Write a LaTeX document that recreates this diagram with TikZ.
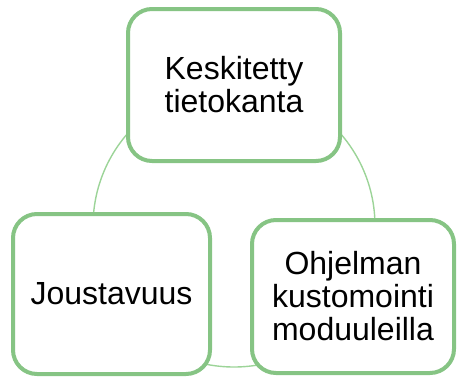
\documentclass[tikz,border=0pt]{standalone}
\usepackage{fontspec}
\setmainfont{Liberation Sans}
\definecolor{boxgreen}{RGB}{134,196,132}
\definecolor{ringgreen}{RGB}{156,212,152}
\begin{document}
\begin{tikzpicture}[x=1pt,y=-1pt,
  cyclebox/.style={draw=boxgreen, line width=4pt, fill=white,
    rounded corners=24pt, inner sep=0pt, align=center,
    font=\fontsize{32}{33}\selectfont, text=black}]
\useasboundingbox (0,0) rectangle (457,378);
% ring linking the three stages
\coordinate (hub) at (234,226);
\draw[ringgreen, line width=1.4pt] (hub) circle[radius=141pt];
% stages
\node[cyclebox, minimum width=212pt, minimum height=152pt] (db) at (234,85)
  {Keskitetty\\tietokanta};
\node[cyclebox, minimum width=197pt, minimum height=160pt] (flex) at (111.5,294)
  {Joustavuus};
\node[cyclebox, minimum width=202pt, minimum height=153pt] (mods) at (353,296.5)
  {Ohjelman\\kustomointi\\moduuleilla};
\end{tikzpicture}
\end{document}
